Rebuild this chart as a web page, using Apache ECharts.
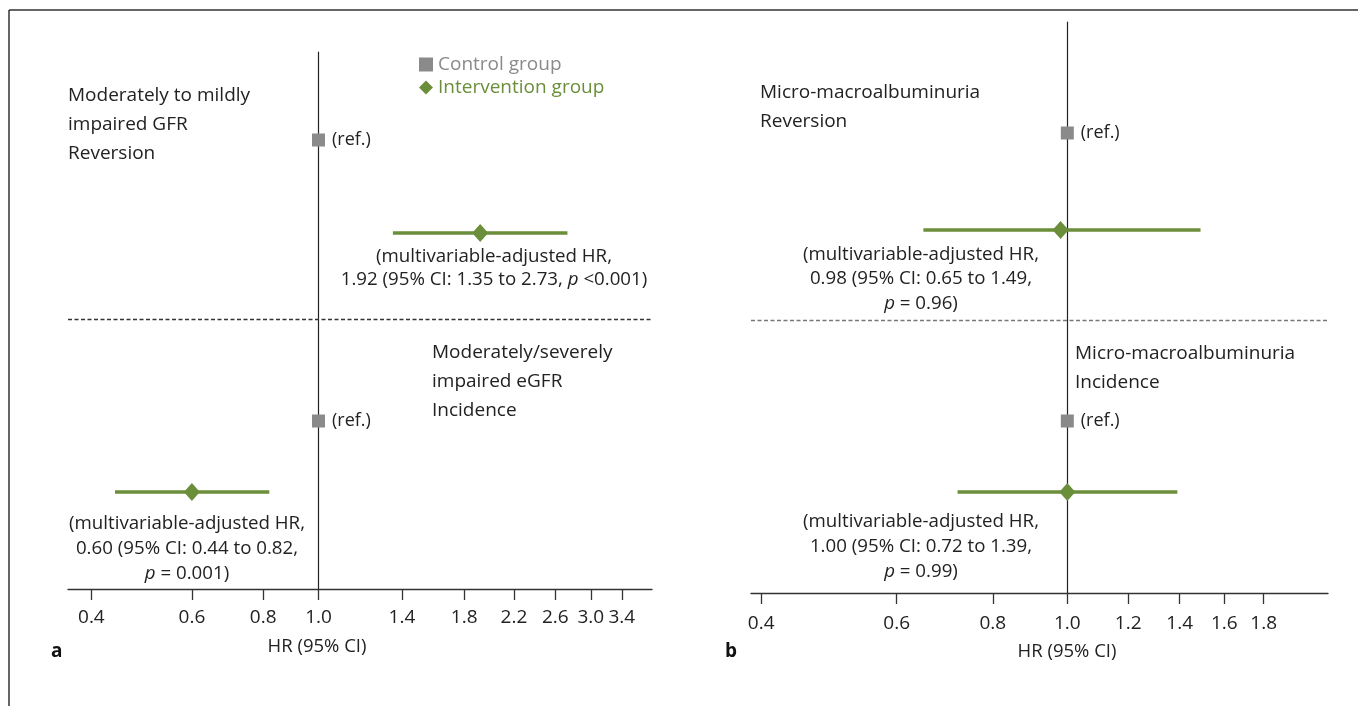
<!DOCTYPE html>
<html><head><meta charset="utf-8">
<script src="https://cdn.jsdelivr.net/npm/echarts@6/dist/echarts.min.js"></script>
<style>html,body{margin:0;padding:0;background:#fff}#c{width:1358px;height:706px}</style>
</head><body><div id="c"></div>
<script>
// ---------- data ----------
const outcomesA = ['Reversion', 'Incidence'];
const controlHR_A = [1.0, 1.0];
const interHR_A = [1.92, 0.60];
const interLo_A = [1.35, 0.44];
const interHi_A = [2.73, 0.82];

const outcomesB = ['Reversion', 'Incidence'];
const controlHR_B = [1.0, 1.0];
const interHR_B = [0.98, 1.00];
const interLo_B = [0.65, 0.72];
const interHi_B = [1.49, 1.39];

const ticksA = [0.4, 0.6, 0.8, 1.0, 1.4, 1.8, 2.2, 2.6, 3.0, 3.4];
const ticksB = [0.4, 0.6, 0.8, 1.0, 1.2, 1.4, 1.6, 1.8];
const legendNames = ['Control group', 'Intervention group'];

// ---------- layout (rows in panel units, top->bottom) ----------
const layoutA = { ref: [88, 369], inter: [181, 440], sep: 267, h: 537, xmin: 0.364, xmax: 3.84 };
const layoutB = { ref: [111, 399], inter: [208, 470], sep: 298, h: 571, xmin: 0.388, xmax: 2.182 };

const FONT = '"Open Sans", "Noto Sans", sans-serif';
const GRAY = '#8a8a8a';
const GREEN = '#6b8e3a';
const TXT = '#222';
const L = Math.log10;

function xAxisFor(idx, ticks, lay) {
  return {
    type: 'value', gridIndex: idx, min: L(lay.xmin), max: L(lay.xmax),
    axisLine: { show: true, onZero: false, lineStyle: { color: '#333', width: 1.3 } },
    axisTick: { show: true, length: 11, customValues: ticks.map(L), lineStyle: { color: '#333', width: 1.3 } },
    axisLabel: { show: true, customValues: ticks.map(L), margin: idx === 0 ? 19 : 21,
      formatter: v => Math.pow(10, v).toFixed(1), color: TXT, fontSize: 19, fontFamily: FONT },
    splitLine: { show: false }
  };
}
function yAxisFor(idx, lay) {
  return {
    type: 'value', gridIndex: idx, min: 0, max: lay.h, inverse: true,
    axisLine: { show: true, onZero: true, lineStyle: { color: '#222', width: 1.2 } },
    axisTick: { show: false }, axisLabel: { show: false }, splitLine: { show: false }
  };
}
function ciSeries(idx, lo, hi, lay, sepColor) {
  return {
    type: 'custom', xAxisIndex: idx, yAxisIndex: idx, silent: true, z: 2,
    data: lo.map((v, i) => [L(v), L(hi[i]), lay.inter[i]]),
    renderItem: (params, api) => {
      const p1 = api.coord([api.value(0), api.value(2)]);
      const p2 = api.coord([api.value(1), api.value(2)]);
      return { type: 'line', shape: { x1: p1[0], y1: p1[1], x2: p2[0], y2: p2[1] },
        style: { stroke: GREEN, lineWidth: 3.5 } };
    },
    markLine: {
      silent: true, symbol: 'none', label: { show: false },
      lineStyle: { type: [4, 2.5], color: sepColor, width: 1.3 },
      data: [{ yAxis: lay.sep }]
    }
  };
}
function ctrlSeries(idx, hr, lay) {
  return {
    name: legendNames[0], type: 'scatter', xAxisIndex: idx, yAxisIndex: idx, z: 4,
    symbol: 'rect', symbolSize: 13, itemStyle: { color: GRAY, opacity: 1 },
    data: hr.map((v, i) => [L(v), lay.ref[i]]),
    label: { show: true, position: 'right', distance: 7, formatter: '(ref.)',
      color: TXT, fontSize: 18, fontFamily: FONT }
  };
}
function interSeries(idx, hr, lay) {
  return {
    name: legendNames[1], type: 'scatter', xAxisIndex: idx, yAxisIndex: idx, z: 5,
    symbol: 'diamond', symbolSize: [16, 18], itemStyle: { color: GREEN, opacity: 1 },
    data: hr.map((v, i) => [L(v), lay.inter[i]])
  };
}

const ANN = 18.7;
function rich(x, y, text, lh) {
  return { type: 'text', x: x, y: y, silent: true,
    style: { text: text, fill: TXT, fontSize: ANN, fontFamily: FONT, lineHeight: lh,
      align: 'center', verticalAlign: 'top',
      rich: { i: { fontStyle: 'italic', fontSize: ANN, fontFamily: FONT, fill: TXT, lineHeight: lh } } } };
}
function heading(x, y, text) {
  return { type: 'text', x: x, y: y, silent: true,
    style: { text: text, fill: TXT, fontSize: 19, fontFamily: FONT, lineHeight: 29, align: 'left', verticalAlign: 'top' } };
}

const chart = echarts.init(document.getElementById('c'), null, { renderer: 'canvas' });
chart.setOption({
  backgroundColor: '#fff',
  animation: false,
  legend: {
    data: [
      { name: legendNames[0], icon: 'rect', textStyle: { color: GRAY } },
      { name: legendNames[1], icon: 'diamond', textStyle: { color: GREEN } }
    ],
    orient: 'vertical', left: 414, top: 50, itemWidth: 14, itemHeight: 14, itemGap: 4,
    selectedMode: false, textStyle: { fontSize: 19, fontFamily: FONT }
  },
  grid: [
    { left: 68, right: 706, top: 52, bottom: 117 },
    { left: 751, right: 30, top: 22, bottom: 113 }
  ],
  xAxis: [xAxisFor(0, ticksA, layoutA), xAxisFor(1, ticksB, layoutB)],
  yAxis: [yAxisFor(0, layoutA), yAxisFor(1, layoutB)],
  series: [
    ciSeries(0, interLo_A, interHi_A, layoutA, '#333'),
    ctrlSeries(0, controlHR_A, layoutA),
    interSeries(0, interHR_A, layoutA),
    ciSeries(1, interLo_B, interHi_B, layoutB, '#777'),
    ctrlSeries(1, controlHR_B, layoutB),
    interSeries(1, interHR_B, layoutB)
  ],
  graphic: [
    { type: 'line', silent: true, shape: { x1: 9, y1: 10, x2: 1358, y2: 10 }, style: { stroke: '#333', lineWidth: 1.5 } },
    { type: 'line', silent: true, shape: { x1: 9, y1: 10, x2: 9, y2: 706 }, style: { stroke: '#333', lineWidth: 1.5 } },
    heading(68, 81, 'Moderately to mildly\nimpaired GFR\nReversion'),
    heading(432, 338, 'Moderately/severely\nimpaired eGFR\nIncidence'),
    heading(760, 78, 'Micro-macroalbuminuria\nReversion'),
    heading(1075, 339, 'Micro-macroalbuminuria\nIncidence'),
    rich(494, 245, '(multivariable-adjusted HR,\n1.92 (95% CI: 1.35 to 2.73, {i|p} <0.001)', 23),
    rich(187, 511, '(multivariable-adjusted HR,\n0.60 (95% CI: 0.44 to 0.82,\n{i|p} = 0.001)', 25),
    rich(921, 242, '(multivariable-adjusted HR,\n0.98 (95% CI: 0.65 to 1.49,\n{i|p} = 0.96)', 24.5),
    rich(921, 509, '(multivariable-adjusted HR,\n1.00 (95% CI: 0.72 to 1.39,\n{i|p} = 0.99)', 25),
    { type: 'text', x: 317, y: 647, silent: true, style: { text: 'HR (95% CI)', fill: TXT, fontSize: 18.5, fontFamily: FONT, align: 'center', verticalAlign: 'middle' } },
    { type: 'text', x: 1067, y: 652, silent: true, style: { text: 'HR (95% CI)', fill: TXT, fontSize: 18.5, fontFamily: FONT, align: 'center', verticalAlign: 'middle' } },
    { type: 'text', x: 51, y: 652, silent: true, style: { text: 'a', fill: '#111', fontSize: 19, fontWeight: 'bold', fontFamily: FONT, align: 'left', verticalAlign: 'middle' } },
    { type: 'text', x: 725, y: 652, silent: true, style: { text: 'b', fill: '#111', fontSize: 19, fontWeight: 'bold', fontFamily: FONT, align: 'left', verticalAlign: 'middle' } }
  ]
});
</script>
</body></html>
